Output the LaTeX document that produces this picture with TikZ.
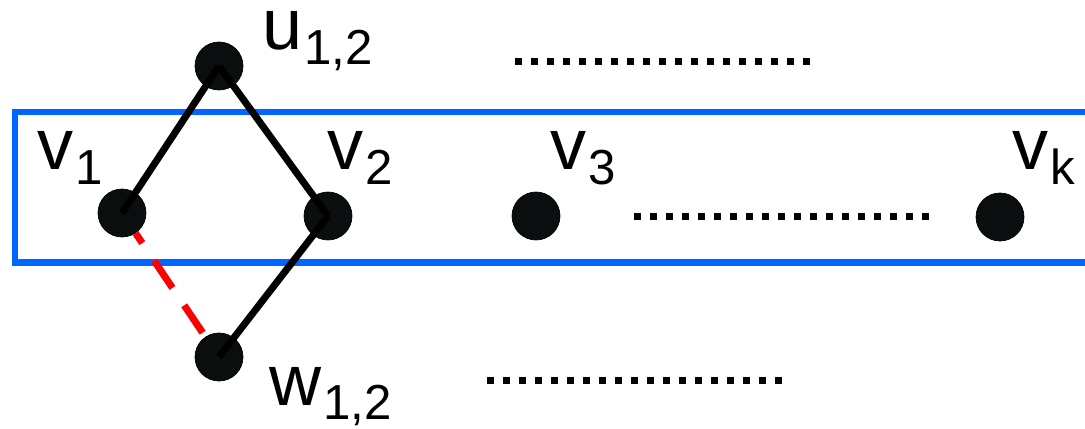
\documentclass[tikz,border=0pt]{standalone}
\usepackage{fontspec}
\setmainfont{Liberation Sans}
\usetikzlibrary{positioning}
\definecolor{setblue}{HTML}{0066FF}
\definecolor{cutred}{HTML}{FF0000}
\definecolor{vblack}{HTML}{0A0E0E}
\newcommand{\vlabel}[2]{{\fontsize{41}{41}\selectfont #1}\kern1pt{\fontsize{28}{28}\selectfont\raisebox{-8.5pt}{#2}}}

\begin{document}
\begin{tikzpicture}[
  x=0.02cm, y=-0.02cm,
  vertex/.style={circle, draw=black, fill=vblack, minimum size=0.96cm, inner sep=0pt},
  vname/.style={anchor=base west, inner sep=0pt},
  edge/.style={line width=0.14cm, black},
  cut/.style={line width=0.14cm, cutred, dash pattern=on 0.66cm off 0.42cm, dash phase=0.42cm},
  dots/.style={line width=0.14cm, black, dash pattern=on 0.14cm off 0.18cm},
]
\useasboundingbox (0,0) rectangle (1085,429);
% the set V
\draw[setblue, line width=0.14cm] (15,112) rectangle (1120,262);

% vertices
\node[vertex] (u12) at (219,66) {};
\node[vertex] (v1) at (122,213) {};
\node[vertex] (v2) at (328,216) {};
\node[vertex] (v3) at (536,216) {};
\node[vertex] (vk) at (1000,217) {};
\node[vertex] (w12) at (219,357) {};

% names
\node[vname] (lu12) at (262,50) {\vlabel{u}{1,2}};
\node[vname] (lv1) at (37,170) {\vlabel{v}{1}};
\node[vname] (lv2) at (327,170) {\vlabel{v}{2}};
\node[vname] (lv3) at (550,170) {\vlabel{v}{3}};
\node[vname] (lvk) at (1012,170) {\vlabel{v}{k}};
\node[vname] (lw12) at (269,405) {\vlabel{w}{1,2}};

% edges
\draw[edge] (u12.center) -- (v1.center);
\draw[edge] (u12.center) -- (v2.center);
\draw[edge] (v2.center) -- (w12.center);
\draw[cut] (v1) -- (w12);

% dots
\draw[dots] (515,62) -- (810,62);
\draw[dots] (634,216) -- (929,216);
\draw[dots] (487,380) -- (782,380);
\end{tikzpicture}
\end{document}
